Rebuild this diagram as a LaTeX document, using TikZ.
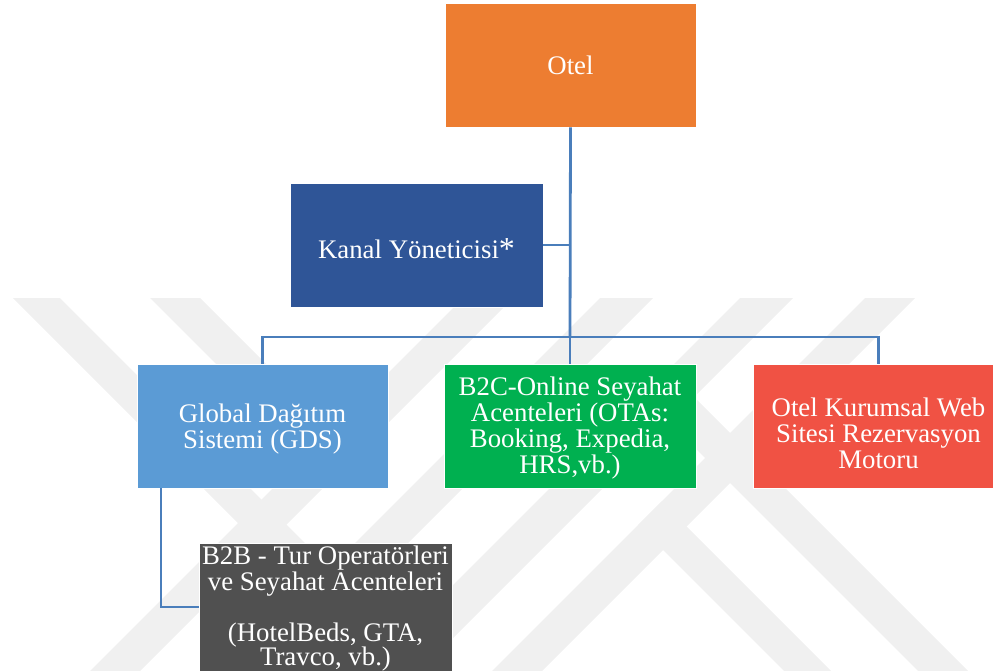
\documentclass[tikz,border=0pt]{standalone}
\usepackage{fontspec}
\setmainfont{Liberation Serif}
\definecolor{cOtel}{HTML}{ED7D31}
\definecolor{cKanal}{HTML}{2F5597}
\definecolor{cGds}{HTML}{5B9BD5}
\definecolor{cGreen}{HTML}{00B050}
\definecolor{cRed}{HTML}{F05244}
\definecolor{cGray}{HTML}{505050}
\definecolor{cLine}{HTML}{4A7EBB}
\definecolor{cWm}{HTML}{F0F0F0}
\begin{document}
\begin{tikzpicture}[x=1pt,y=-1pt,
  box/.style={draw=white, line width=0.8pt, minimum width=251pt, minimum height=124pt, inner sep=0pt},
  lbl/.style={text=white, align=center, inner sep=0pt, font=\fontsize{26.8}{26}\selectfont},
  conn/.style={draw=cLine, line width=2.8pt},
  wm/.style={fill=cWm, draw=none}]
\useasboundingbox (0,0) rectangle (993,671);
% faint watermark
\begin{scope}
\clip (0,0) rectangle (993,671);
\fill[wm] (463,298) -- (513,298) -- (140,671) -- (90,671) -- cycle;
\fill[wm] (600,298) -- (653,298) -- (280,671) -- (227,671) -- cycle;
\fill[wm] (740,298) -- (793,298) -- (420,671) -- (367,671) -- cycle;
\fill[wm] (865,298) -- (915,298) -- (542,671) -- (492,671) -- cycle;
\fill[wm] (13,298) -- (60,298) -- (433,671) -- (386,671) -- cycle;
\fill[wm] (150,298) -- (200,298) -- (331.5,429.5) -- (331.5,479.5) -- cycle;
\fill[wm] (638,525) -- (661.5,501.5) -- (831,671) -- (784,671) -- cycle;
\fill[wm] (642.5,395.5) -- (667.5,370.5) -- (968,671) -- (918,671) -- cycle;
\end{scope}
% boxes
\node[box, fill=cOtel] (otel) at (570.5,65) {};
\node[box, fill=cKanal, minimum width=253pt] (kanal) at (416.5,245) {};
\node[box, fill=cGds] (gds) at (262.5,426) {};
\node[box, fill=cGreen, minimum width=252pt] (b2c) at (570,426) {};
\node[box, fill=cRed] (web) at (878.5,426) {};
\node[box, fill=cGray, minimum width=253pt, minimum height=128pt] (b2b) at (325.5,607) {};
% texts
\node[lbl] (otelT) at (otel.center) {Otel};
\node[lbl] (kanalT) at ([yshift=-4pt]kanal.center) {Kanal Yöneticisi\raisebox{-1pt}{\fontsize{32}{32}\selectfont*}};
\node[lbl] (gdsT) at ([yshift=-3pt]gds.center) {Global Dağıtım\\Sistemi (GDS)};
\node[lbl] (b2cT) at ([yshift=-2pt]b2c.center) {B2C-Online Seyahat\\Acenteleri (OTAs:\\Booking, Expedia,\\HRS,vb.)};
\node[lbl] (webT) at ([yshift=-7pt]web.center) {Otel Kurumsal Web\\Sitesi Rezervasyon\\Motoru};
\node[lbl] (b2bT) at ([yshift=-2pt]b2b.center) {B2B - Tur Operatörleri\\ve Seyahat Acenteleri\\[25pt](HotelBeds, GTA,\\[-2pt]Travco, vb.)};
% connectors
\coordinate (bus) at (570,337);
\draw[conn] (otel.south) -- (bus);
\draw[conn] (kanal.east) -- (kanal.east -| otel.south);
\draw[conn] (gds.north) |- (bus) -| (web.north);
\draw[conn] (bus) -- (b2c.north);
\draw[conn] ([xshift=-101.5pt]gds.south) |- (b2b.west);
\end{tikzpicture}
\end{document}
